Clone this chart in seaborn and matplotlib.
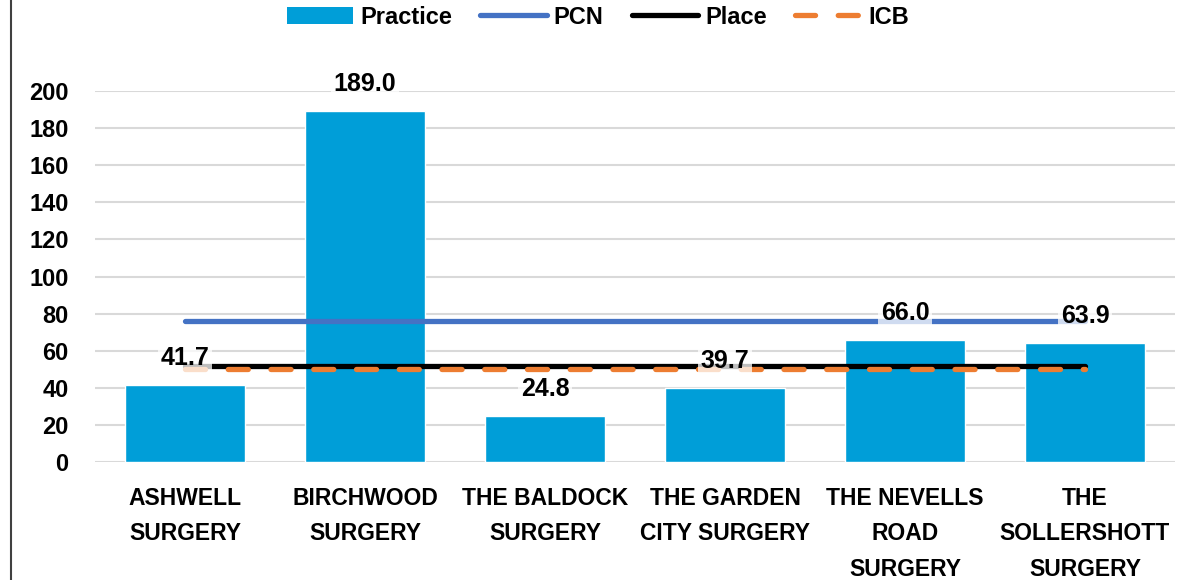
import matplotlib
matplotlib.use("Agg")
import matplotlib.pyplot as plt
import seaborn as sns
import pandas as pd
from matplotlib.lines import Line2D
from matplotlib.patches import Patch

categories = ["ASHWELL\nSURGERY", "BIRCHWOOD\nSURGERY", "THE BALDOCK\nSURGERY",
              "THE GARDEN\nCITY SURGERY", "THE NEVELLS\nROAD\nSURGERY",
              "THE\nSOLLERSHOTT\nSURGERY"]
practice = [41.7, 189.0, 24.8, 39.7, 66.0, 63.9]
pcn = [76.0, 76.0, 76.0, 76.0, 76.0, 76.0]
place = [51.7, 51.7, 51.7, 51.7, 51.7, 51.7]
icb = [50.3, 50.3, 50.3, 50.3, 50.3, 50.3]
yticks = [0, 20, 40, 60, 80, 100, 120, 140, 160, 180, 200]

sns.set_theme(style="white")
plt.rcParams['font.family'] = ['Liberation Sans', 'DejaVu Sans']
plt.rcParams['font.weight'] = 'bold'
plt.rcParams['text.color'] = 'black'
plt.rcParams['xtick.color'] = 'black'
plt.rcParams['ytick.color'] = 'black'

BAR = "#009ED8"
PCN_C = "#4472C4"
ICB_C = "#ED7D31"
DASH = (0, (3.8, 4.3))

fig = plt.figure(figsize=(11.96, 5.8), dpi=100)
ax = fig.add_axes([0.0794, 0.2034, 0.9030, 0.6397])

df = pd.DataFrame({"cat": categories, "val": practice})
sns.barplot(data=df, x="cat", y="val", color=BAR, width=0.667, saturation=1,
            ax=ax, zorder=2)

xs = list(range(len(categories)))
ax.plot(xs, pcn, color=PCN_C, lw=3.8, solid_capstyle='round', zorder=3)
ax.plot(xs, place, color="black", lw=3.8, solid_capstyle='round', zorder=3)
ax.plot(xs, icb, color=ICB_C, lw=3.8, ls=DASH, dash_capstyle='round', zorder=4)

for i, v in enumerate(practice):
    ax.annotate(f"{v:.1f}", (i, v), xytext=(0, 27), textcoords='offset pixels',
                ha='center', va='center', fontsize=18, fontweight='bold', color='black',
                bbox=dict(boxstyle='square,pad=0.12', fc='white', ec='none', alpha=0.75),
                zorder=5)

ax.set_xlim(-0.5, 5.5)
ax.set_ylim(0, 200)
ax.set_yticks(yticks)
ax.set_yticklabels([str(t) for t in yticks])
ax.yaxis.grid(True, color="#D9D9D9", lw=1.5, zorder=0)
ax.set_axisbelow(True)
for s in ax.spines.values():
    s.set_visible(False)
ax.set_xlabel("")
ax.set_ylabel("")
ax.tick_params(axis='y', length=0, pad=19, labelsize=17)
ax.tick_params(axis='x', length=0, pad=18, labelsize=16.5)
for lab in ax.get_xticklabels():
    lab.set_linespacing(1.68)
    lab.set_fontweight('bold')
for lab in ax.get_yticklabels():
    lab.set_fontweight('bold')

handles = [Patch(facecolor=BAR, edgecolor='none'),
           Line2D([], [], color=PCN_C, lw=3.8, solid_capstyle='round'),
           Line2D([], [], color='black', lw=3.8, solid_capstyle='round'),
           Line2D([], [], color=ICB_C, lw=3.8, ls=DASH, dash_capstyle='round')]
fig.legend(handles, ["Practice", "PCN", "Place", "ICB"], loc='center',
           bbox_to_anchor=(0.5, 0.97), ncol=4, frameon=False,
           handlelength=2.8, handleheight=0.75, columnspacing=1.2, handletextpad=0.3,
           prop={'weight': 'bold', 'size': 17})

fig.add_artist(Line2D([0.009, 0.009], [0, 1], transform=fig.transFigure,
                      color='#404040', lw=1.5))

fig.savefig("out.png", dpi=100)
